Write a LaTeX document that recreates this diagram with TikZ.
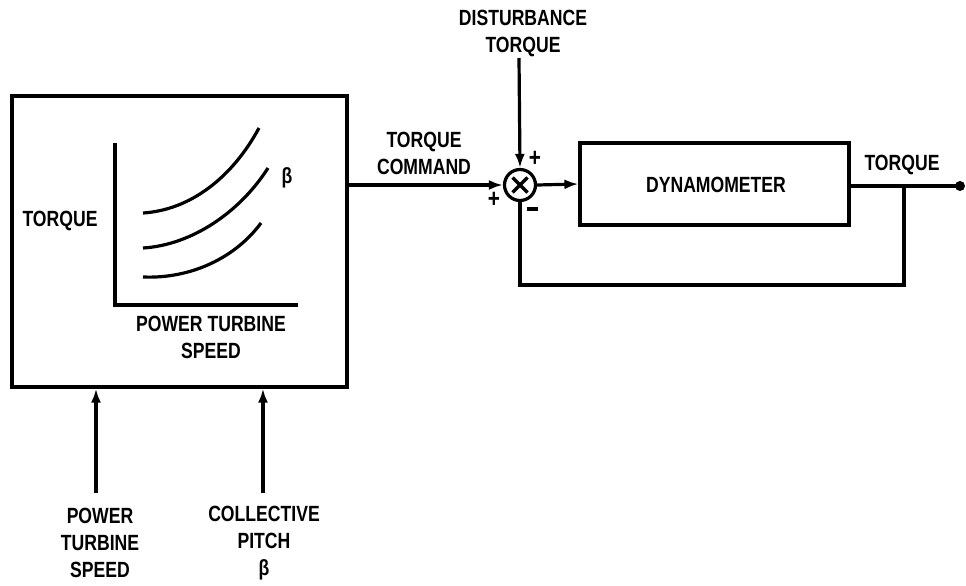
\documentclass[tikz,border=0pt]{standalone}
\usepackage{fontspec}
\setmainfont{Liberation Sans}[FakeStretch=0.8]
\usetikzlibrary{arrows.meta}
\begin{document}
\begin{tikzpicture}[x=1pt,y=-1pt,line width=3.2pt,
  lbl/.style={font=\fontsize{22}{27}\selectfont\bfseries,align=center,inner sep=0pt},
  blk/.style={draw,rectangle,inner sep=0pt},
  arr/.style={-{Latex[length=14pt,width=10pt]}},
  sgn/.style={font=\fontsize{26}{26}\selectfont\bfseries,inner sep=0pt}]
\useasboundingbox (0,0) rectangle (966,586);
% boxes
\node[blk,minimum width=335pt,minimum height=291pt] (map) at (179.5,241.5) {};
\node[blk,minimum width=269pt,minimum height=82pt] (dyn) at (714.5,184) {};
\node[lbl] (dynl) at (716,185) {DYNAMOMETER};
% summing junction
\node[draw,circle,minimum size=31pt,inner sep=0pt] (sum) at (520,185) {};
\draw (sum.center) ++(-7.5,-7.5) -- ++(15,15);
\draw (sum.center) ++(-7.5,7.5) -- ++(15,-15);
% graph inside the box
\coordinate (ytop) at (115,143);
\coordinate (org) at (115,305);
\coordinate (xend) at (298,305);
\draw (ytop) -- (org) -- (xend);
\draw (143,213) .. controls (190,210) and (232,178) .. (259,128);
\draw (143,248) .. controls (192,245) and (240,212) .. (268,168);
\draw (143,277) .. controls (192,279) and (236,257) .. (261,223);
\node[lbl] (beta) at (287,178) {β};
\node[lbl] (tq) at (60,221) {TORQUE};
\node[lbl] (pts) at (211,337) {POWER TURBINE\\SPEED};
% inputs
\coordinate (in1) at (96,493);
\coordinate (in2) at (263,493);
\draw[arr] (in1) -- (in1 |- map.south);
\draw[arr] (in2) -- (in2 |- map.south);
\node[lbl] (l1) at (100,543) {POWER\\TURBINE\\SPEED};
\node[lbl] (l2) at (264,543) {COLLECTIVE\\PITCH\\β};
% torque command
\draw[arr] (map.east |- sum) -- (sum.west);
\node[lbl] (tc) at (424,153) {TORQUE\\COMMAND};
% disturbance
\coordinate (dtop) at (519,58);
\draw[arr] (dtop) -- (sum.north);
\node[lbl] (dl) at (523,33) {DISTURBANCE\\TORQUE};
% signs
\node[sgn] (p1) at (535,159) {+};
\node[sgn] (p2) at (494,200) {+};
\node[sgn] (m1) at (532,209) {\rule{11pt}{3.2pt}};
% forward
\draw[arr] (sum.east) -- (dyn.west);
\coordinate (br) at (904,186);
\coordinate (out) at (960,186);
\draw (dyn.east |- out) -- (out);
\fill (out) circle (5pt);
\node[lbl] (tol) at (902,165) {TORQUE};
% feedback
\coordinate (fb) at (904,285);
\draw (br) -- (fb) -| (sum.south);
\end{tikzpicture}
\end{document}
